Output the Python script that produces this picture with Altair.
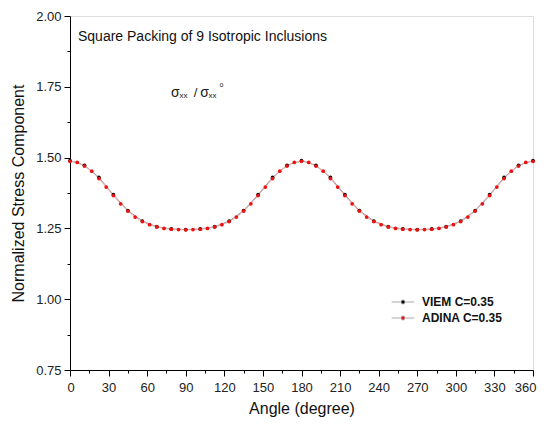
import altair as alt
import pandas as pd

# ---- data ----
adina_angle = [0, 5.625, 11.25, 16.875, 22.5, 28.125, 33.75, 39.375, 45, 50.625, 56.25, 61.875, 67.5,
               73.125, 78.75, 84.375, 90, 95.625, 101.25, 106.875, 112.5, 118.125, 123.75, 129.375, 135,
               140.625, 146.25, 151.875, 157.5, 163.125, 168.75, 174.375, 180, 185.625, 191.25, 196.875,
               202.5, 208.125, 213.75, 219.375, 225, 230.625, 236.25, 241.875, 247.5, 253.125, 258.75,
               264.375, 270, 275.625, 281.25, 286.875, 292.5, 298.125, 303.75, 309.375, 315, 320.625,
               326.25, 331.875, 337.5, 343.125, 348.75, 354.375, 360]
adina_value = [1.487, 1.483, 1.470, 1.452, 1.426, 1.396, 1.366, 1.337, 1.311, 1.290, 1.274, 1.263, 1.255,
               1.250, 1.247, 1.246, 1.245,
               1.246, 1.247, 1.250, 1.255, 1.263, 1.274, 1.290, 1.311, 1.337, 1.366, 1.396, 1.426, 1.452,
               1.470, 1.483, 1.487,
               1.483, 1.470, 1.452, 1.426, 1.396, 1.366, 1.337, 1.311, 1.290, 1.274, 1.263, 1.255, 1.250,
               1.247, 1.246, 1.245,
               1.246, 1.247, 1.250, 1.255, 1.263, 1.274, 1.290, 1.311, 1.337, 1.366, 1.396, 1.426, 1.452,
               1.470, 1.483, 1.487]

viem_angle = [0, 11.25, 22.5, 33.75, 45, 56.25, 67.5, 78.75, 90, 101.25, 112.5, 123.75, 135, 146.25,
              157.5, 168.75, 180, 191.25, 202.5, 213.75, 225, 236.25, 247.5, 258.75, 270, 281.25, 292.5,
              303.75, 315, 326.25, 337.5, 348.75, 360]
viem_value = [1.489, 1.473, 1.430, 1.369, 1.313, 1.276, 1.256, 1.248, 1.246, 1.248, 1.256, 1.276, 1.313,
              1.369, 1.430, 1.473, 1.489, 1.473, 1.430, 1.369, 1.313, 1.276, 1.256, 1.248, 1.246, 1.248,
              1.256, 1.276, 1.313, 1.369, 1.430, 1.473, 1.489]

series_names = ["VIEM C=0.35", "ADINA C=0.35"]
x_ticks = [0, 30, 60, 90, 120, 150, 180, 210, 240, 270, 300, 330, 360]
x_minor = [15, 45, 75, 105, 135, 165, 195, 225, 255, 285, 315, 345]
y_ticks = [0.75, 1.00, 1.25, 1.50, 1.75, 2.00]
y_minor = [0.875, 1.125, 1.375, 1.625, 1.875]

df = pd.concat([
    pd.DataFrame({"angle": viem_angle, "value": viem_value, "series": series_names[0]}),
    pd.DataFrame({"angle": adina_angle, "value": adina_value, "series": series_names[1]}),
])

FONT = "Liberation Sans"
x_scale = alt.Scale(domain=[0, 360], nice=False)
y_scale = alt.Scale(domain=[0.75, 2.0], nice=False, zero=False)

common_axis = dict(grid=False, domainColor="black", tickColor="black",
                   labelFontSize=13, labelColor="#222", labelFont=FONT,
                   titleFontSize=16, titleFont=FONT, titleFontWeight="normal",
                   titleColor="#111", labelOverlap=False)

x_enc = alt.X("angle:Q", scale=x_scale,
              axis=alt.Axis(values=x_ticks, title="Angle (degree)", orient="bottom",
                            labelFlush=1, labelFlushOffset=3,
                            tickSize=6, labelPadding=5, titlePadding=6, **common_axis))
y_enc = alt.Y("value:Q", scale=y_scale,
              axis=alt.Axis(values=y_ticks, title="Normalized Stress Component", format=".2f",
                            labelFlush=False,
                            orient="left", tickSize=6, labelPadding=3, titlePadding=9, **common_axis))

x_minor_enc = alt.X("angle:Q", scale=x_scale,
                    axis=alt.Axis(values=x_minor, orient="bottom", labels=False, title=None,
                                  domain=False, grid=False, tickSize=3, tickColor="black"))
y_minor_enc = alt.Y("value:Q", scale=y_scale,
                    axis=alt.Axis(values=y_minor, orient="left", labels=False, title=None,
                                  domain=False, grid=False, tickSize=3, tickColor="black"))

line_color = alt.Color("series:N", scale=alt.Scale(domain=series_names, range=["#999999", "#e8a8a8"]),
                       legend=None)
pt_color = alt.Color("series:N", scale=alt.Scale(domain=series_names, range=["#000000", "#ee1111"]),
                     legend=alt.Legend(title=None, orient="none", legendX=324, legendY=277,
                                       symbolType="M-1.4,0H-0.35M0.35,0H1.4M-0.25,0A0.25,0.25,0,1,1,0.25,0A0.25,0.25,0,1,1,-0.25,0",
                                       symbolSize=260, symbolStrokeWidth=1, symbolStrokeColor="#aaaaaa",
                                       labelFont=FONT, labelFontSize=12, labelFontWeight="bold",
                                       labelColor="#111", rowPadding=1, labelOffset=10))

lines = alt.Chart(df).mark_line(strokeWidth=1).encode(x=x_enc, y=y_enc, color=line_color,
                                                      detail="series:N")
points = alt.Chart(df).mark_point(filled=True, shape="circle", opacity=1, size=14).encode(
    x=x_minor_enc, y=y_minor_enc,
    color=pt_color,
    order=alt.Order("series:N", sort="descending"))

ax_x = alt.X("x:Q", scale=x_scale, axis=None)
ax_y = alt.Y("y:Q", scale=y_scale, axis=None)

ann_df = pd.DataFrame({"x": [6.2], "y": [1.926], "t": ["Square Packing of 9 Isotropic Inclusions"]})
title_txt = alt.Chart(ann_df).mark_text(align="left", fontSize=14, font=FONT, color="#111").encode(
    x=ax_x, y=ax_y, text="t:N")

sig_df = pd.DataFrame({
    "x": [78.5, 85.2, 96.2, 101.2, 107.7],
    "y": [1.728, 1.718, 1.728, 1.728, 1.718],
    "t": ["σ", "xx", "/", "σ", "xx"],
    "s": [14, 8, 13, 14, 8],
})
sig_txt = alt.Chart(sig_df).mark_text(align="left", font=FONT, color="#222").encode(
    x=ax_x, y=ax_y, text="t:N", size=alt.Size("s:Q", scale=None, legend=None))
deg_df = pd.DataFrame({"x": [116.2], "y": [1.757], "t": ["o"]})
deg_txt = alt.Chart(deg_df).mark_text(align="left", fontSize=7, font=FONT, color="#222").encode(
    x=ax_x, y=ax_y, text="t:N")

chart = alt.layer(lines, points, title_txt, sig_txt, deg_txt).resolve_scale(
    color="independent"
).resolve_axis(x="independent", y="independent").properties(
    width=463, height=354,
    autosize=alt.AutoSizeParams(type="none"),
    padding={"left": 62, "top": 8, "right": 6, "bottom": 48},
).configure_view(stroke="black", strokeWidth=1).configure(background="white")

chart.save("out.html", embed_options={"renderer": "svg", "actions": False})
